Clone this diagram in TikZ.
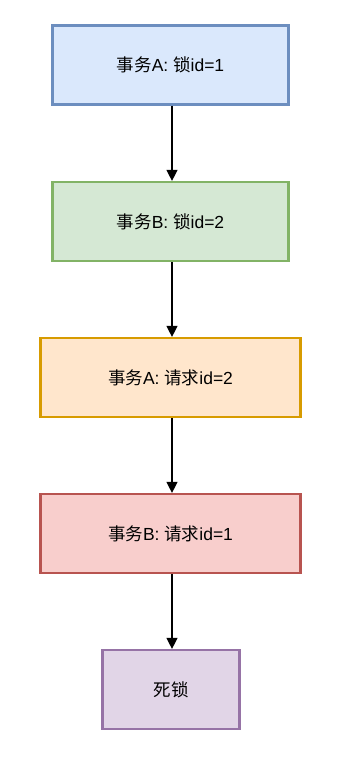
\documentclass[tikz,border=0pt]{standalone}
\usepackage{fontspec}
\setmainfont{Liberation Sans}
\newfontfamily\cjk{Noto Sans CJK SC}
\usetikzlibrary{arrows.meta}
\definecolor{f1}{HTML}{DAE8FC}\definecolor{s1}{HTML}{6C8EBF}
\definecolor{f2}{HTML}{D5E8D4}\definecolor{s2}{HTML}{82B366}
\definecolor{f3}{HTML}{FFE6CC}\definecolor{s3}{HTML}{D79B00}
\definecolor{f4}{HTML}{F8CECC}\definecolor{s4}{HTML}{B85450}
\definecolor{f5}{HTML}{E1D5E7}\definecolor{s5}{HTML}{9673A6}
\begin{document}
\begin{tikzpicture}[x=1pt,y=-1pt,
  boxst/.style={draw, line width=2.2pt, minimum height=79pt, inner sep=0pt, font=\fontsize{17.5}{20}\selectfont},
  arr/.style={line width=1.3pt, -{Triangle[length=11pt,width=11pt]}}]
\useasboundingbox (0,0) rectangle (348,768);
\node[boxst, fill=f1, draw=s1, minimum width=236pt] (a) at (170.5,65) {{\cjk 事务}A: {\cjk 锁}id=1};
\node[boxst, fill=f2, draw=s2, minimum width=236pt] (b) at (170.5,221.5) {{\cjk 事务}B: {\cjk 锁}id=2};
\node[boxst, fill=f3, draw=s3, minimum width=260pt] (c) at (170.5,377.5) {{\cjk 事务}A: {\cjk 请求}id=2};
\node[boxst, fill=f4, draw=s4, minimum width=260pt] (d) at (170.5,533.5) {{\cjk 事务}B: {\cjk 请求}id=1};
\node[boxst, fill=f5, draw=s5, minimum width=137pt] (e) at (171,689.5) {{\cjk 死锁}};
\draw[arr] (a.south -| 172,0) -- (b.north -| 172,0);
\draw[arr] (b.south -| 172,0) -- (c.north -| 172,0);
\draw[arr] (c.south -| 172,0) -- (d.north -| 172,0);
\draw[arr] (d.south -| 172,0) -- (e.north -| 172,0);
\end{tikzpicture}
\end{document}
